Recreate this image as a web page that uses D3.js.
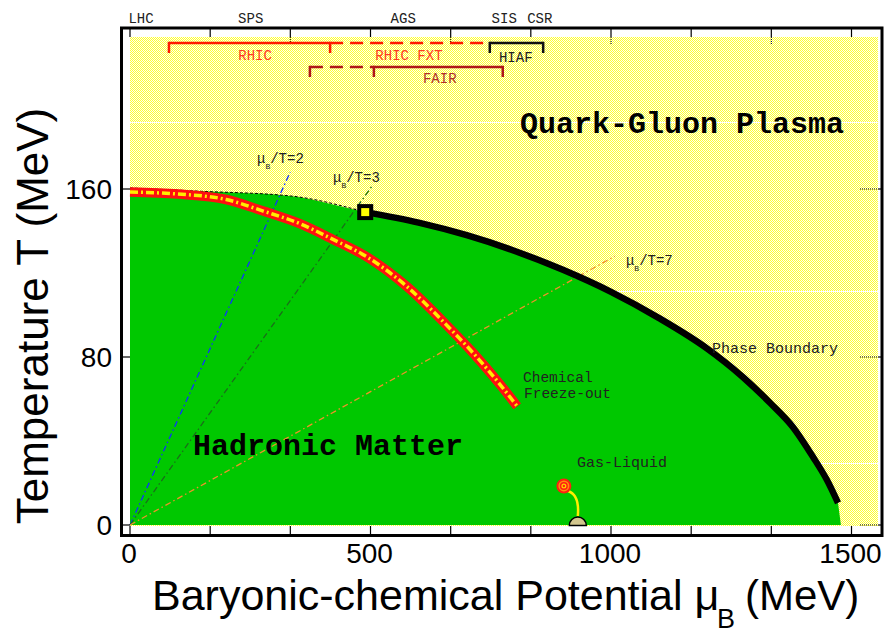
<!DOCTYPE html>
<html><head><meta charset="utf-8">
<script src="https://cdn.jsdelivr.net/npm/d3@7"></script>
<style>html,body{margin:0;padding:0;background:#fff;}svg{display:block;}</style>
</head><body>
<svg id="chart" width="887" height="631"></svg>
<script>
// ---------------- data ----------------
const xTicksMajor = [0, 500, 1000, 1500];
const xTicksMinor = [0, 166.7, 333.3, 500, 666.7, 833.3, 1000, 1166.7, 1333.3, 1500];
const yTicks = [0, 80, 160];
const crossover = [[0,160.5],[139,159],[333,156.7],[489,149]];
const phaseBoundary = [[489,149],[600,144],[700,138],[800,130.5],[900,121.5],[1000,111],[1100,98.5],[1200,84],[1274,70.5],[1331,58.1],[1378,46.7],[1420,32.4],[1449,21.4],[1472,10.5]];
const hadronEdge = [[1478,0],[0,0]];
const freezeOut = [[0,158.6],[100,157.6],[200,155],[277,149.5],[353,143.5],[422,136],[493,127.6],[576,113.5],[659,95],[713,82],[769,67],[805,56.5]];
const criticalPoint = [489,149];
const ratioNames = ["2","3","7"];
const ratioEnds = [[333,168],[505,162],[1008,128]];
const ratioColors = ["#1030ff","#1a6e1a","#f0902a"];
const ratioLabelPos = [[264,172.4],[422,163.3],[1031,123.8]];
const gasLiquidTarget = [902,18.6];
const gasLiquidNucleus = [931,0];
const facilities = ["LHC","SPS","AGS","SIS","CSR"];
const facilityMu = [23, 251, 568, 778, 852];
const programs = ["RHIC","RHIC FXT","HIAF","FAIR"];
const programRanges = [[81,416],[416,748],[748,859],[507,775],[374,507]];
const programLabelMu = [260, 580, 802, 644];
const gridT = [192, 111.4, 29.5];

// ---------------- layout ----------------
const svg = d3.select("#chart");
const x = d3.scaleLinear().domain([0,1500]).range([130,851.5]);
const y = d3.scaleLinear().domain([0,160]).range([525,189]);
const mono = "'Liberation Mono','Courier New',monospace";
const sans = "'Liberation Sans',Arial,sans-serif";

// pattern for QGP region
const defs = svg.append("defs");
const pat = defs.append("pattern").attr("id","qgp").attr("patternUnits","userSpaceOnUse")
  .attr("width",2).attr("height",2);
pat.append("rect").attr("width",2).attr("height",2).attr("fill","#fffff0");
pat.append("rect").attr("x",0).attr("y",0).attr("width",1).attr("height",1).attr("fill","#ffff30");
pat.append("rect").attr("x",1).attr("y",1).attr("width",1).attr("height",1).attr("fill","#ffff30");

// yellow region
svg.append("rect").attr("x",x(0)).attr("y",y(232.4)).attr("width",x(1555)-x(0)).attr("height",y(0)-y(232.4)+1)
  .attr("fill","url(#qgp)");
// faint white grid lines
svg.selectAll(".grid").data(gridT).enter().append("line")
  .attr("x1",x(0)).attr("x2",x(1555)).attr("y1",d=>Math.round(y(d))+0.5).attr("y2",d=>Math.round(y(d))+0.5)
  .attr("stroke","#ffffff").attr("stroke-width",1);

// hadronic (green) region
const smooth = d3.line().x(d=>x(d[0])).y(d=>y(d[1])).curve(d3.curveMonotoneX);
const greenTop = crossover.concat(phaseBoundary.slice(1));
svg.append("path").attr("d", smooth(greenTop) + "L" + hadronEdge.map(d=>x(d[0])+","+y(d[1])).join("L") + "Z")
  .attr("fill","#00c800");

// mu/T lines
ratioEnds.forEach((e,i)=>{
  svg.append("line").attr("x1",x(0)).attr("y1",y(0)).attr("x2",x(e[0])).attr("y2",y(e[1]))
    .attr("stroke",ratioColors[i]).attr("stroke-width",1.3).attr("stroke-dasharray","6,3,1.5,3");
});

// crossover dashed
svg.append("path").attr("d", smooth(crossover))
  .attr("fill","none").attr("stroke","#000").attr("stroke-width",1).attr("stroke-dasharray","3,2");

// freeze-out
svg.append("path").attr("d",smooth(freezeOut)).attr("fill","none").attr("stroke","#ff1010").attr("stroke-width",9.5);
svg.append("path").attr("d",smooth(freezeOut)).attr("fill","none").attr("stroke","#ffee00").attr("stroke-width",3.5)
  .attr("stroke-dasharray","8,3,2,3");

// phase boundary
svg.append("path").attr("d",smooth(phaseBoundary)).attr("fill","none").attr("stroke","#000").attr("stroke-width",6.5);

// critical point
svg.append("rect").attr("x",x(criticalPoint[0])-6).attr("y",y(criticalPoint[1])-6).attr("width",12).attr("height",12)
  .attr("fill","#ffff00").attr("stroke","#000").attr("stroke-width",4);

// gas-liquid
const gx = x(gasLiquidNucleus[0]), gy = y(gasLiquidNucleus[1]);
const tx = x(gasLiquidTarget[0]), ty = y(gasLiquidTarget[1]);
svg.append("path").attr("d",`M${gx},${gy-9} C${gx+1},${gy-20} ${gx},${ty+8} ${tx+4},${ty+5}`)
  .attr("fill","none").attr("stroke","#ffee00").attr("stroke-width",2.5);
svg.append("path").attr("d",d3.arc()({innerRadius:0,outerRadius:8.5,startAngle:-Math.PI/2,endAngle:Math.PI/2}))
  .attr("transform",`translate(${gx},${gy+0.5})`).attr("fill","#d2c68e").attr("stroke","#000").attr("stroke-width",1.5);
[[7.5,"#ff2010"],[5.5,"#ff8c10"],[4,"#ff2010"],[2.5,"#ffd000"],[1.2,"#ff2010"]].forEach(r=>{
  svg.append("circle").attr("cx",tx).attr("cy",ty).attr("r",r[0]).attr("fill",r[1]);
});

// frame
svg.append("rect").attr("x",121.5).attr("y",28).attr("width",882-121.5).attr("height",535.5-28)
  .attr("fill","none").attr("stroke","#000").attr("stroke-width",3);
// bottom ticks
svg.selectAll(".bt").data(xTicksMinor).enter().append("line")
  .attr("x1",d=>x(d)).attr("x2",d=>x(d)).attr("y1",526).attr("y2",535).attr("stroke","#000").attr("stroke-width",1.2);
// top ticks
svg.selectAll(".tt").data(xTicksMinor).enter().append("line")
  .attr("x1",d=>x(d)).attr("x2",d=>x(d)).attr("y1",28).attr("y2",37).attr("stroke","#000").attr("stroke-width",1.2);
svg.selectAll(".tt2").data([333.3,666.7,1000,1333.3]).enter().append("line")
  .attr("x1",d=>x(d)).attr("x2",d=>x(d)).attr("y1",37).attr("y2",44).attr("stroke","#000").attr("stroke-width",1).attr("stroke-dasharray","1,1");
// left ticks
svg.selectAll(".lt").data(yTicks).enter().append("line")
  .attr("x1",121).attr("x2",130).attr("y1",d=>y(d)).attr("y2",d=>y(d)).attr("stroke","#000").attr("stroke-width",1.2);
// right ticks
svg.selectAll(".rt").data(yTicks).enter().append("line")
  .attr("x1",860).attr("x2",878).attr("y1",d=>y(d)).attr("y2",d=>y(d)).attr("stroke","#000").attr("stroke-width",1).attr("stroke-dasharray","1,1");
svg.selectAll(".rt2").data(yTicks).enter().append("line")
  .attr("x1",878).attr("x2",882).attr("y1",d=>y(d)).attr("y2",d=>y(d)).attr("stroke","#000").attr("stroke-width",1.2);

// tick labels
svg.selectAll(".xl").data(xTicksMajor).enter().append("text")
  .attr("x",d=>x(d)-1).attr("y",563).attr("text-anchor","middle").attr("font-family",sans).attr("font-size",28)
  .text(d=>d);
svg.selectAll(".yl").data(yTicks).enter().append("text")
  .attr("x",112).attr("y",d=>y(d)+10).attr("text-anchor","end").attr("font-family",sans).attr("font-size",28)
  .text(d=>d);

// axis titles
svg.append("text").attr("x",152).attr("y",610).attr("font-family",sans).attr("font-size",43)
  .text("Baryonic-chemical Potential μ");
svg.append("text").attr("x",717).attr("y",628).attr("font-family",sans).attr("font-size",27).text("B");
svg.append("text").attr("x",745).attr("y",610).attr("font-family",sans).attr("font-size",42).text("(MeV)");
svg.append("text").attr("transform","translate(48,316) rotate(-90)").attr("text-anchor","middle")
  .attr("font-family",sans).attr("font-size",44).text("Temperature T (MeV)");

// facility labels on top
svg.selectAll(".fac").data(facilities).enter().append("text")
  .attr("x",(d,i)=>x(facilityMu[i])).attr("y",23).attr("text-anchor","middle")
  .attr("font-family",mono).attr("font-size",14).attr("fill","#222").text(d=>d);

// program brackets
function bracket(r, yy, color, dashed, leftTick, rightTick){
  svg.append("line").attr("x1",x(r[0])).attr("x2",x(r[1])).attr("y1",yy).attr("y2",yy)
    .attr("stroke",color).attr("stroke-width",2.5).attr("stroke-dasharray",dashed?"13,7":null);
  if(leftTick) svg.append("line").attr("x1",x(r[0])).attr("x2",x(r[0])).attr("y1",yy-1.2).attr("y2",yy+10).attr("stroke",color).attr("stroke-width",2.5);
  if(rightTick) svg.append("line").attr("x1",x(r[1])).attr("x2",x(r[1])).attr("y1",yy-1.2).attr("y2",yy+10).attr("stroke",color).attr("stroke-width",2.5);
}
bracket(programRanges[0],43,"#ff1a00",false,true,true);
bracket(programRanges[1],43,"#ff1a00",true,false,false);
bracket(programRanges[2],43,"#111",false,true,true);
bracket(programRanges[3],67,"#b01818",false,true,true);
bracket(programRanges[4],67,"#b01818",true,true,false);
const progColors = ["#ff3a20","#ff3a20","#222","#b0302a"];
const progY = [60,60,62,83];
programs.forEach((p,i)=>{
  svg.append("text").attr("x",x(programLabelMu[i])).attr("y",progY[i]).attr("text-anchor","middle")
    .attr("font-family",mono).attr("font-size",14).attr("fill",progColors[i]).text(p);
});

// ratio labels
ratioNames.forEach((n,i)=>{
  const px = x(ratioLabelPos[i][0]), py = y(ratioLabelPos[i][1]);
  const t = svg.append("text").attr("x",px).attr("y",py).attr("font-family",mono).attr("font-size",14).attr("fill","#222");
  t.append("tspan").text("μ");
  t.append("tspan").attr("dy",6).attr("font-size",8).text("B");
  t.append("tspan").attr("dy",-6).text("/T="+n);
});

// region labels
svg.append("text").attr("x",520).attr("y",133).attr("font-family",mono).attr("font-weight","bold").attr("font-size",30)
  .attr("fill","#000").text("Quark-Gluon Plasma");
svg.append("text").attr("x",193).attr("y",455).attr("font-family",mono).attr("font-weight","bold").attr("font-size",30)
  .attr("fill","#000").text("Hadronic Matter");
svg.append("text").attr("x",712).attr("y",353).attr("font-family",mono).attr("font-size",15).attr("fill","#222").text("Phase Boundary");
svg.append("text").attr("x",523).attr("y",382).attr("font-family",mono).attr("font-size",14.5).attr("fill","#222").text("Chemical");
svg.append("text").attr("x",524).attr("y",398).attr("font-family",mono).attr("font-size",14.5).attr("fill","#222").text("Freeze-out");
svg.append("text").attr("x",577).attr("y",467).attr("font-family",mono).attr("font-size",15).attr("fill","#222").text("Gas-Liquid");
</script>
</body></html>
